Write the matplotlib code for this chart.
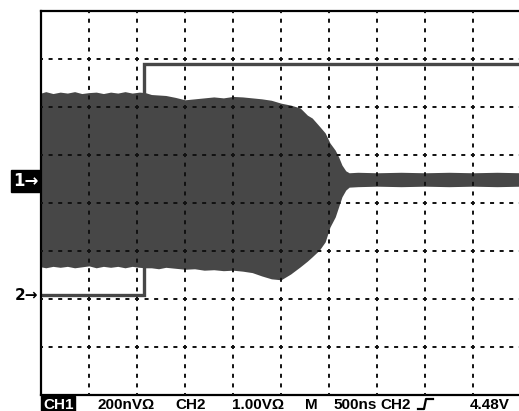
import matplotlib
matplotlib.use("Agg")
import matplotlib.pyplot as plt
from matplotlib.lines import Line2D

plt.rcParams['font.family'] = ['Liberation Sans', 'DejaVu Sans']
plt.rcParams['lines.scale_dashes'] = False

# ---- data (screen divisions: x 0..10, y 0..8) ----
env_x = [0, 0.1, 0.25, 0.4, 0.55, 0.7, 0.85, 1.0, 1.15, 1.3,
         1.45, 1.6, 1.75, 1.9, 2.05, 2.17, 2.3, 2.45, 2.6, 2.8,
         3.0, 3.2, 3.4, 3.6, 3.8, 4.0, 4.2, 4.4, 4.6, 4.8,
         5.0, 5.2, 5.4, 5.55, 5.65, 5.8, 5.92, 6.02, 6.13, 6.2,
         6.27, 6.35, 6.42, 6.6, 7.0, 7.5, 8.0, 8.5, 9.0, 9.5, 10.0]
env_top = [6.29, 6.32, 6.28, 6.31, 6.29, 6.32, 6.28, 6.30, 6.31, 6.28,
           6.31, 6.29, 6.32, 6.29, 6.31, 6.30, 6.26, 6.25, 6.24, 6.20,
           6.15, 6.17, 6.19, 6.21, 6.19, 6.22, 6.21, 6.19, 6.17, 6.14,
           6.08, 6.04, 5.98, 5.83, 5.77, 5.60, 5.46, 5.25, 5.10, 4.96,
           4.79, 4.67, 4.63, 4.64, 4.63, 4.64, 4.63, 4.64, 4.63, 4.64, 4.63]
env_bot = [2.67, 2.65, 2.68, 2.66, 2.68, 2.65, 2.67, 2.69, 2.65, 2.68,
           2.66, 2.68, 2.65, 2.68, 2.66, 2.65, 2.65, 2.63, 2.66, 2.64,
           2.62, 2.63, 2.60, 2.61, 2.59, 2.60, 2.58, 2.55, 2.48, 2.42,
           2.40, 2.52, 2.67, 2.79, 2.88, 3.02, 3.19, 3.50, 3.71, 3.92,
           4.13, 4.27, 4.33, 4.34, 4.35, 4.34, 4.35, 4.34, 4.35, 4.34, 4.35]

ch2_x = [0, 2.15, 2.15, 10]
ch2_y = [2.08, 2.08, 6.90, 6.90]

ch1_marker_level = 4.46
ch2_marker_level = 2.08

status_labels = ["200nV\u03a9", "CH2", "1.00V\u03a9", "M", "500ns", "CH2", "4.48V"]
status_x_px = [97, 175, 232, 305, 333, 380, 470]

W, H = 519, 411
fig = plt.figure(figsize=(W / 100, H / 100), dpi=100)
fig.patch.set_facecolor('white')
ax = fig.add_axes([41 / W, 16 / H, 480 / W, 384 / H])
ax.set_xlim(0, 10)
ax.set_ylim(0, 8)
ax.set_xticks([])
ax.set_yticks([])
for s in ['left', 'top', 'bottom']:
    ax.spines[s].set_linewidth(1.6)
    ax.spines[s].set_color('black')
ax.spines['right'].set_visible(False)

trace = '#474747'
ax.fill_between(env_x, env_bot, env_top, color=trace, lw=0, zorder=2)
ax.plot(ch2_x, ch2_y, color=trace, lw=2.4, solid_joinstyle='miter', zorder=2)

# graticule
on, period = 2.9, 6.91
dash = (on / 2, (on, period - on))
for i in range(1, 10):
    ax.axvline(i, color='#111111', lw=1.4, ls=dash, zorder=3)
for j in range(1, 8):
    ax.axhline(j, color='#111111', lw=1.4, ls=dash, zorder=3)

# channel markers
ax.text(-0.06, ch1_marker_level, "1\u2192", transform=ax.transData, ha='right', va='center',
        fontsize=12, fontweight='bold', color='white', clip_on=False,
        family=['DejaVu Sans'],
        bbox=dict(boxstyle='square,pad=0.1', fc='black', ec='black'))
ax.text(-0.06, ch2_marker_level, "2\u2192", transform=ax.transData, ha='right', va='center',
        fontsize=11, fontweight='bold', color='black', clip_on=False,
        family=['DejaVu Sans'])

# status line
fs = 11
fig.text(43 / W, 1 - 405 / H, "CH1", ha='left', va='center', fontsize=fs,
         fontweight='bold', color='white',
         bbox=dict(boxstyle='square,pad=0.12', fc='black', ec='black'))
for lab, xp in zip(status_labels, status_x_px):
    fig.text(xp / W, 1 - 405 / H, lab, ha='left', va='center', fontsize=fs,
             fontweight='bold', color='black')
# trigger slope glyph
fig.add_artist(Line2D([418 / W, 424 / W, 426 / W, 433 / W],
                      [1 - 409 / H, 1 - 409 / H, 1 - 399 / H, 1 - 399 / H],
                      transform=fig.transFigure, color='black', lw=1.6))

fig.savefig('out.png', dpi=100)
